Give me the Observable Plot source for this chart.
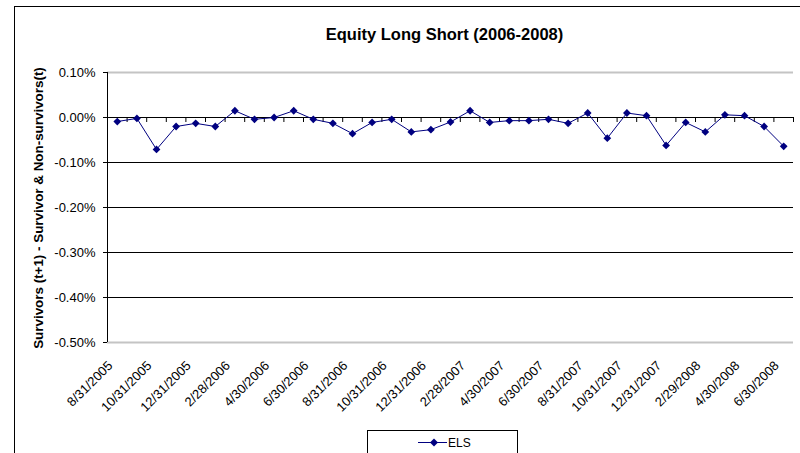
<!DOCTYPE html>
<html><head><meta charset="utf-8">
<script src="https://cdn.jsdelivr.net/npm/d3@7"></script>
<script src="https://cdn.jsdelivr.net/npm/@observablehq/plot@0.6"></script>
<style>
body{margin:0;background:#fff;font-family:Arial,"Liberation Sans",sans-serif;}
#wrap{position:relative;width:800px;height:453px;overflow:hidden;background:#fff;}
#border{position:absolute;left:14px;top:6px;width:900px;height:600px;border:1px solid #000;}
#title{position:absolute;left:0;width:889px;top:25px;text-align:center;font-weight:bold;font-size:16.5px;color:#000;}
#ytitle{position:absolute;left:-111px;width:300px;top:200px;text-align:center;font-weight:bold;font-size:13.4px;transform:rotate(-90deg);transform-origin:150px 8px;white-space:nowrap;color:#000;}
#chart{position:absolute;left:0;top:0;}
#legend{position:absolute;left:367px;top:430px;width:149px;height:40px;border:1px solid #000;background:#fff;}
</style>
</head><body>
<div id="wrap">
  <div id="border"></div>
  <div id="title">Equity Long Short (2006-2008)</div>
  <div id="chart"></div>
  <div id="ytitle">Survivors (t+1) - Survivor &amp; Non-survivors(t)</div>
  <div id="legend"></div>
</div>
<script>
const dates = ["8/31/2005","9/30/2005","10/31/2005","11/30/2005","12/31/2005",
  "1/31/2006","2/28/2006","3/31/2006","4/30/2006","5/31/2006","6/30/2006","7/31/2006","8/31/2006","9/30/2006","10/31/2006","11/30/2006","12/31/2006",
  "1/31/2007","2/28/2007","3/31/2007","4/30/2007","5/31/2007","6/30/2007","7/31/2007","8/31/2007","9/30/2007","10/31/2007","11/30/2007","12/31/2007",
  "1/31/2008","2/29/2008","3/31/2008","4/30/2008","5/31/2008","6/30/2008"];
const els = [-0.009,-0.002,-0.071,-0.020,-0.013,
  -0.020,0.015,-0.004,0.000,0.015,-0.004,-0.013,-0.036,-0.011,-0.004,-0.032,-0.027,
  -0.010,0.015,-0.011,-0.007,-0.007,-0.004,-0.013,0.010,-0.046,0.010,0.004,-0.062,
  -0.011,-0.032,0.006,0.004,-0.020,-0.064];
const yTicks = [0.1,0,-0.1,-0.2,-0.3,-0.4,-0.5];
const seriesName = "ELS";
const lineColor = "#000080";

const data = dates.map((d,i)=>({i, date:d, v:els[i]}));
const W=800, H=453, mL=107, mR=7, mT=72, mB=111;
const yDomain=[-0.5,0.1];
const xDomain=[-0.5, dates.length-0.5];
const tickLen = (yDomain[1]-yDomain[0]) * 5/(H-mT-mB);
const bounds = d3.range(dates.length+1).map(k=>k-0.5);

const chart = Plot.plot({
  width:W, height:H, marginLeft:mL, marginRight:mR, marginTop:mT, marginBottom:mB,
  style:{fontFamily:"Arial, 'Liberation Sans', sans-serif", fontSize:"13px", color:"#000", background:"transparent", overflow:"visible"},
  x:{domain:xDomain},
  y:{domain:yDomain},
  marks:[
    Plot.ruleY(yTicks.filter(t=>t<yDomain[1] && t>yDomain[0]), {stroke:"#000", strokeWidth:1}),
    Plot.ruleY([yDomain[1], yDomain[0]], {stroke:"#c4c4c4", strokeWidth:2}),
    Plot.ruleX(bounds, {y1:0, y2:-tickLen, stroke:"#000"}),
    Plot.ruleX([xDomain[0]], {stroke:"#000"}),
    Plot.axisY({ticks:yTicks, tickFormat:d=>d.toFixed(2)+"%", tickSize:4, tickPadding:8, label:null, stroke:"#000", fontSize:13}),
    Plot.axisX({ticks:d3.range(0,dates.length,2), tickFormat:i=>dates[i], tickRotate:-45, tickSize:0, tickPadding:21, dx:-7, label:null, fontSize:13}),
    Plot.lineY(data,{x:"i", y:"v", stroke:lineColor, strokeWidth:1}),
    Plot.dot(data,{x:"i", y:"v", symbol:"diamond2", r:3.5, fill:lineColor, stroke:"none"})
  ]
});
document.getElementById("chart").appendChild(chart);

document.getElementById("legend").innerHTML =
  `<svg width="149" height="40" style="position:absolute;left:0;top:0">
    <line x1="50" x2="79" y1="11.5" y2="11.5" stroke="${lineColor}" stroke-width="1"/>
    <path d="M66,7.5 L70,11.5 L66,15.5 L62,11.5 Z" fill="${lineColor}"/>
    <text x="80" y="16" font-family="Arial, 'Liberation Sans', sans-serif" font-size="12" fill="#000">${seriesName}</text>
  </svg>`;
</script>
</body></html>
